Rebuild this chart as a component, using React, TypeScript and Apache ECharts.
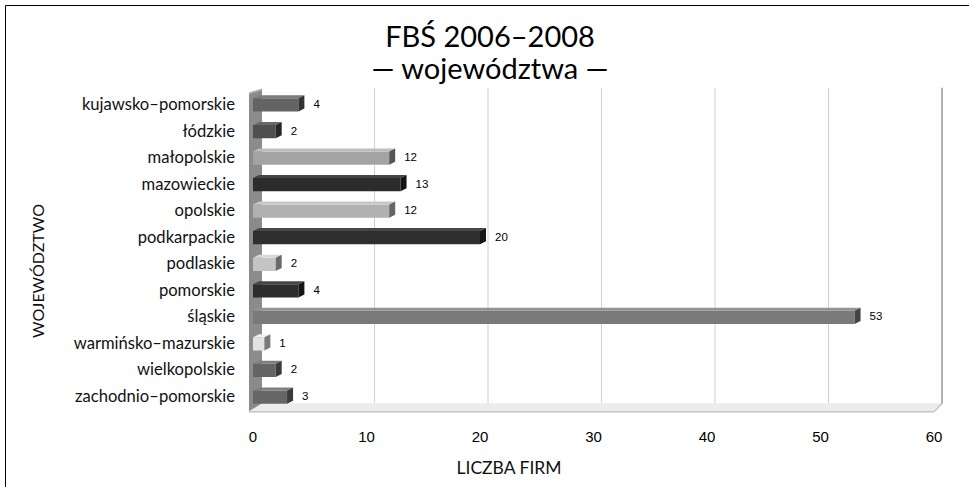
import React, { useEffect, useRef } from "react";
import * as echarts from "echarts";

const categories = [
  "kujawsko–pomorskie",
  "łódzkie",
  "małopolskie",
  "mazowieckie",
  "opolskie",
  "podkarpackie",
  "podlaskie",
  "pomorskie",
  "śląskie",
  "warmińsko–mazurskie",
  "wielkopolskie",
  "zachodnio–pomorskie",
];
const values = [4, 2, 12, 13, 12, 20, 2, 4, 53, 1, 2, 3];
const frontColors = ["#636363", "#4f4f4f", "#a3a3a3", "#2b2b2b", "#b1b1b1", "#2e2e2e", "#c4c4c4", "#2d2d2d", "#7a7a7a", "#e2e2e2", "#646464", "#666666"];
const topColors = ["#7c7c7c", "#686868", "#bdbdbd", "#444444", "#c9c9c9", "#474747", "#d8d8d8", "#464646", "#939393", "#f0f0f0", "#7d7d7d", "#7f7f7f"];
const sideColors = ["#333333", "#262626", "#555555", "#141414", "#666666", "#161616", "#6a6a6a", "#151515", "#444444", "#7a7a7a", "#3a3a3a", "#3b3b3b"];
const xTicks = [0, 10, 20, 30, 40, 50, 60];

const titleText = "FBŚ 2006–2008\n— województwa —";
const xName = "LICZBA FIRM";
const yName = "WOJEWÓDZTWO";

const DX = 8;
const DY = 8;

export default function App() {
  const ref = useRef<HTMLDivElement>(null);
  useEffect(() => {
    if (!ref.current) return;
    const chart = echarts.init(ref.current, null, { renderer: "svg" });
    const last = categories.length - 1;

    const planeBounds = (api: any) => {
      const band = api.size([0, 1])[1];
      const yTop = api.coord([0, 0])[1] - band / 2;
      const yBot = api.coord([0, last])[1] + band / 2;
      const x0 = api.coord([0, 0])[0];
      const x60 = api.coord([60, 0])[0];
      return { band, yTop, yBot, x0, x60 };
    };

    const option: any = {
      animation: false,
      backgroundColor: "#ffffff",
      title: {
        text: titleText,
        left: 485,
        top: 14,
        textAlign: "center",
        textStyle: {
          fontFamily: "Lato",
          fontSize: 29,
          fontWeight: "normal",
          color: "#000",
          lineHeight: 32,
        },
      },
      grid: { left: 253, right: 35, top: 90.7, bottom: 77.7 },
      xAxis: {
        type: "value",
        min: 0,
        max: 60,
        interval: 10,
        axisLine: { show: false },
        axisTick: { show: false },
        splitLine: { show: false },
        axisLabel: {
          margin: 20,
          fontFamily: "Liberation Sans",
          fontSize: 15,
          color: "#000",
        },
      },
      yAxis: {
        type: "category",
        inverse: true,
        data: categories,
        axisLine: { show: false },
        axisTick: { show: false },
        splitLine: { show: false },
        axisLabel: {
          margin: 18,
          fontFamily: "Lato",
          fontSize: 16.6,
          color: "#111",
        },
      },
      graphic: [
        {
          type: "rect",
          shape: { x: 5.5, y: 5.5, width: 2000, height: 2000 },
          style: { fill: "none", stroke: "#000", lineWidth: 1 },
          silent: true,
        },
        {
          type: "text",
          x: 509,
          y: 467,
          style: {
            text: xName,
            fontFamily: "Lato",
            fontSize: 17.5,
            fill: "#111",
            textAlign: "center",
            textVerticalAlign: "middle",
          },
        },
        {
          type: "text",
          x: 37,
          y: 271,
          rotation: Math.PI / 2,
          style: {
            text: yName,
            fontFamily: "Lato",
            fontSize: 16,
            fill: "#111",
            textAlign: "center",
            textVerticalAlign: "middle",
          },
        },
      ],
      series: [
        {
          type: "custom",
          name: "grid",
          silent: true,
          data: xTicks.map((v) => [v, 0]),
          encode: { x: 0, y: 1 },
          renderItem: (params: any, api: any) => {
            const v = api.value(0);
            const { yTop, yBot } = planeBounds(api);
            const x = api.coord([v, 0])[0];
            if (v === 0) return { type: "group", children: [] };
            const isLast = v === 60;
            const col = isLast ? "#9a9a9a" : "#cfcfcf";
            return {
              type: "group",
              children: [
                {
                  type: "polyline",
                  shape: {
                    points: [
                      [x + DX, yTop - 3],
                      [x + DX, yBot - DY + 2],
                      [x, yBot + 2],
                    ],
                  },
                  style: { stroke: col, lineWidth: isLast ? 1.5 : 1, fill: "none" },
                },
              ],
            };
          },
        },
        {
          type: "custom",
          name: "walls",
          silent: true,
          data: [[0, 0]],
          encode: { x: 0, y: 1 },
          renderItem: (params: any, api: any) => {
            const { yTop, yBot, x0, x60 } = planeBounds(api);
            return {
              type: "group",
              children: [
                {
                  type: "polygon",
                  shape: {
                    points: [
                      [x0 - 4, yBot + 2],
                      [x60, yBot + 2],
                      [x60 + DX, yBot - DY + 2],
                      [x0 + 9, yBot - DY + 2],
                    ],
                  },
                  style: { fill: "#ececec", stroke: "none" },
                },
                {
                  type: "line",
                  shape: { x1: x0 - 4, y1: yBot + 2.5, x2: x60, y2: yBot + 2.5 },
                  style: { stroke: "#c4c4c4", lineWidth: 1.5 },
                },
                {
                  type: "polygon",
                  shape: {
                    points: [
                      [x0 - 4, yTop + 2],
                      [x0 + 9, yTop - 2],
                      [x0 + 9, yBot - DY + 2],
                      [x0 - 4, yBot + 2],
                    ],
                  },
                  style: { fill: "#8b8b8b", stroke: "none" },
                },
                {
                  type: "polygon",
                  shape: {
                    points: [
                      [x0 - 4, yTop + 2],
                      [x0 + 9, yTop - 2],
                      [x0 + 9, yTop - 0.5],
                      [x0 - 4, yTop + 3.5],
                    ],
                  },
                  style: { fill: "#b0b0b0", stroke: "none" },
                },
              ],
            };
          },
        },
        {
          type: "custom",
          name: "bars",
          data: values.map((v, i) => [v, i]),
          encode: { x: 0, y: 1 },
          renderItem: (params: any, api: any) => {
            const i = params.dataIndex;
            const v = api.value(0);
            const band = api.size([0, 1])[1];
            const [x1, cy] = api.coord([v, i]);
            const x0 = api.coord([0, i])[0];
            const h = band * 0.5;
            const yt = cy - h / 2 + 1;
            const yb = yt + h;
            const dx = 6;
            const dy = 3;
            return {
              type: "group",
              children: [
                {
                  type: "rect",
                  shape: { x: x0, y: yt, width: x1 - x0, height: h },
                  style: { fill: frontColors[i] },
                },
                {
                  type: "polygon",
                  shape: { points: [[x0, yt], [x1, yt], [x1 + dx, yt - dy], [x0 + dx, yt - dy]] },
                  style: { fill: topColors[i] },
                },
                {
                  type: "polygon",
                  shape: { points: [[x1, yt], [x1 + dx, yt - dy], [x1 + dx, yb - dy], [x1, yb]] },
                  style: { fill: sideColors[i] },
                },
                {
                  type: "text",
                  x: x1 + dx + 9,
                  y: cy,
                  style: {
                    text: String(v),
                    fontFamily: "Liberation Sans",
                    fontSize: 11.5,
                    fill: "#000",
                    textAlign: "left",
                    textVerticalAlign: "middle",
                  },
                },
              ],
            };
          },
        },
      ],
    };
    chart.setOption(option);
    return () => chart.dispose();
  }, []);
  return (
    <div
      ref={ref}
      style={{ position: "fixed", left: 0, top: 0, width: 969, height: 487 }}
    />
  );
}
